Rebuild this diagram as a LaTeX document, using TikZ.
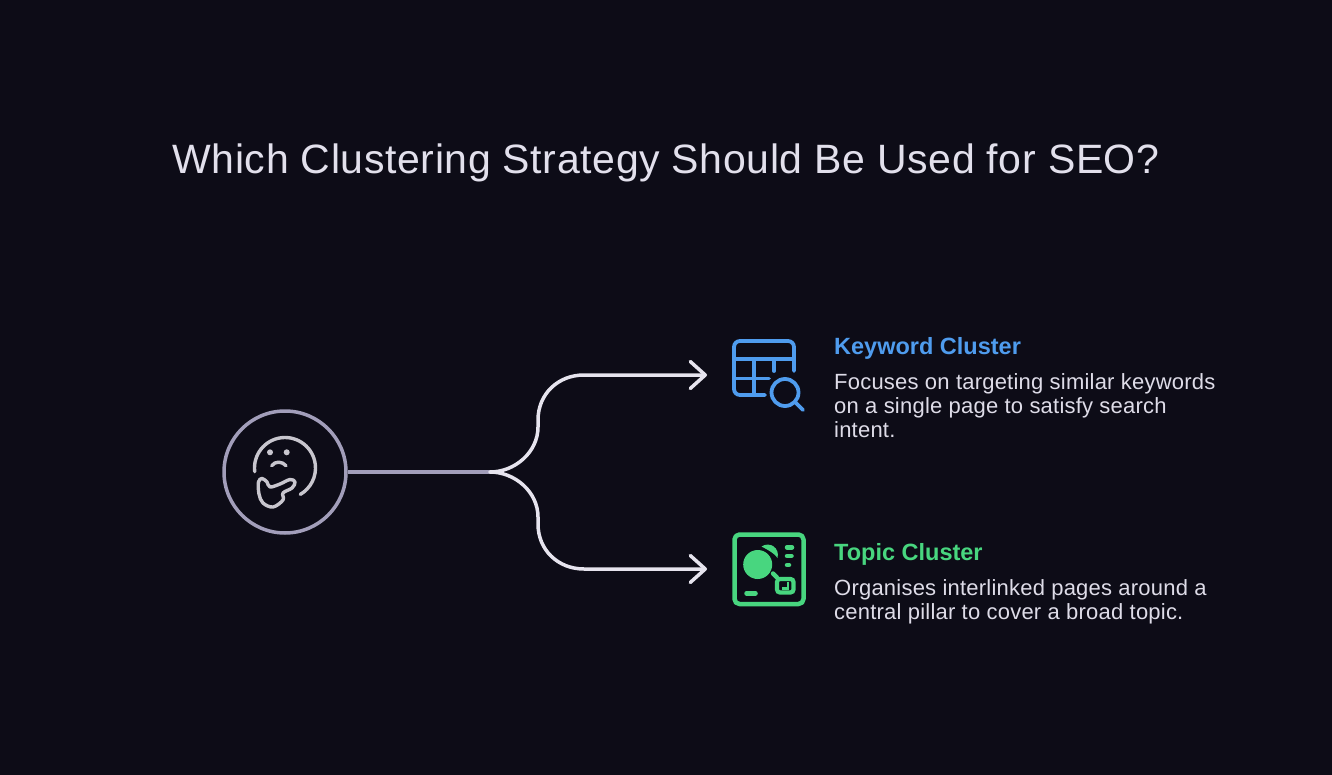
\documentclass[tikz,border=0pt]{standalone}
\usepackage{fontspec}
\setmainfont{Liberation Sans}
\newfontfamily\titlefont[LetterSpace=1.5]{Liberation Sans}
\newfontfamily\bodyfont[LetterSpace=1.0]{Liberation Sans}
\usetikzlibrary{arrows.meta}
\usetikzlibrary{positioning}
\definecolor{pagebg}{HTML}{0D0C17}
\definecolor{titlecol}{HTML}{E2E0EC}
\definecolor{bodycol}{HTML}{DEDCE8}
\definecolor{ringcol}{HTML}{A29EBA}
\definecolor{wirecol}{HTML}{E6E4EE}
\definecolor{facecol}{HTML}{C8C6CE}
\definecolor{kwcol}{HTML}{4F9CEE}
\definecolor{tccol}{HTML}{48D67F}
\tikzset{
  titletext/.style={anchor=base,inner sep=0pt,text=titlecol,font=\titlefont\fontsize{41}{48}\selectfont},
  headtext/.style={anchor=base west,inner sep=0pt,font=\fontsize{23.5}{28}\bfseries\selectfont},
  bodytext/.style={anchor=north west,inner sep=0pt,align=left,text=bodycol,font=\bodyfont\fontsize{22}{24}\selectfont},
  hubring/.style={circle,draw=ringcol,line width=3.5pt,minimum size=122pt,inner sep=0pt},
  wire/.style={draw=wirecol,line width=3.5pt},
  branch/.style={wire,line cap=round,-{Straight Barb[length=15pt,width=27pt,line width=3.5pt,round]}},
  faceline/.style={draw=facecol,line width=3.4pt,line cap=round,line join=round},
  kwline/.style={draw=kwcol,line width=3.8pt,line cap=round,line join=round},
  tcline/.style={draw=tccol,line width=4.5pt,line cap=round,line join=round}
}
\begin{document}
\begin{tikzpicture}[x=1pt,y=-1pt]
   \fill[pagebg] (0,0) rectangle (1332,775);
   \node[titletext] (title) at (666,174) {Which Clustering Strategy Should Be Used for SEO?};
   \node[hubring] (hub) at (285,472) {};
   \coordinate (split) at (490,472);
   \coordinate (kwtip) at (707,375);
   \coordinate (tctip) at (707,569);
   \node[headtext,text=kwcol] (kwhead) at (834,354.5) {Keyword Cluster};
   \node[bodytext] (kwbody) at (834,373.5) {Focuses on targeting similar keywords\\on a single page to satisfy search\\intent.};
   \node[headtext,text=tccol] (tchead) at (834,560.5) {Topic Cluster};
   \node[bodytext] (tcbody) at (834,579.5) {Organises interlinked pages around a\\central pillar to cover a broad topic.};
   \draw[draw=ringcol,line width=3.5pt] (hub) -- (split);
   \path[branch] (split) .. controls (515,472) and (538,452) .. (538,427) -- (538,420) .. controls (538,394) and (558,375) .. (584,375) -- (kwtip);
   \path[branch] (split) .. controls (515,472) and (538,492) .. (538,517) -- (538,524) .. controls (538,550) and (558,569) .. (584,569) -- (tctip);
   % thinking face
   \draw[faceline] (285,468) ++(173:30.5) arc[start angle=173,end angle=420,radius=30.5];
   \fill[facecol] (270,452.3) circle (3) (286.7,452.3) circle (3);
   \draw[faceline] (271.7,465.7) .. controls (275,461) and (282,461) .. (286,465.7);
   \draw[faceline] plot[smooth cycle,tension=.6] coordinates {(262,478.5) (267,482) (270,487) (280,484) (290,479.5) (295,482) (292,488) (283,493) (283,500) (273,507) (263,503) (259,494) (258.5,482)};
   % keyword icon
   \draw[kwline,rounded corners=6pt] (794,371) -- (794,341) -- (734,341) -- (734,395) -- (765,395);
   \draw[kwline] (734,359) -- (794,359);
   \draw[kwline] (734,378.5) -- (769,378.5);
   \draw[kwline] (754,359) -- (754,395);
   \draw[kwline] (774,359) -- (774,371);
   \draw[kwline] (785,392.5) circle (13.5);
   \draw[kwline] (795,402) -- (803,410);
   % topic icon
   \draw[tcline,rounded corners=5pt] (734.5,534.5) rectangle (803.5,604);
   \fill[tccol] (757.7,564.5) circle (14.5);
   \fill[tccol] (761.5,546.5) .. controls (770,541) and (780,548) .. (777.5,558) .. controls (775,554) and (770,551) .. cycle;
   \draw[tcline] (787,547.3) -- (792,547.3);
   \draw[tcline] (787,556) -- (791.5,556);
   \draw[tcline] (787,565) -- (789,565);
   \draw[tcline] (773,573.5) -- (777,577.5);
   \draw[draw=tccol,line width=4.2pt,rounded corners=3pt] (777,579) rectangle (793.5,592.5);
   \draw[draw=tccol,line width=2.6pt] (788,581.7) -- (788,588.3) -- (782,588.3);
   \draw[tcline] (746.5,593.3) -- (755.5,593.3);
\end{tikzpicture}
\end{document}
